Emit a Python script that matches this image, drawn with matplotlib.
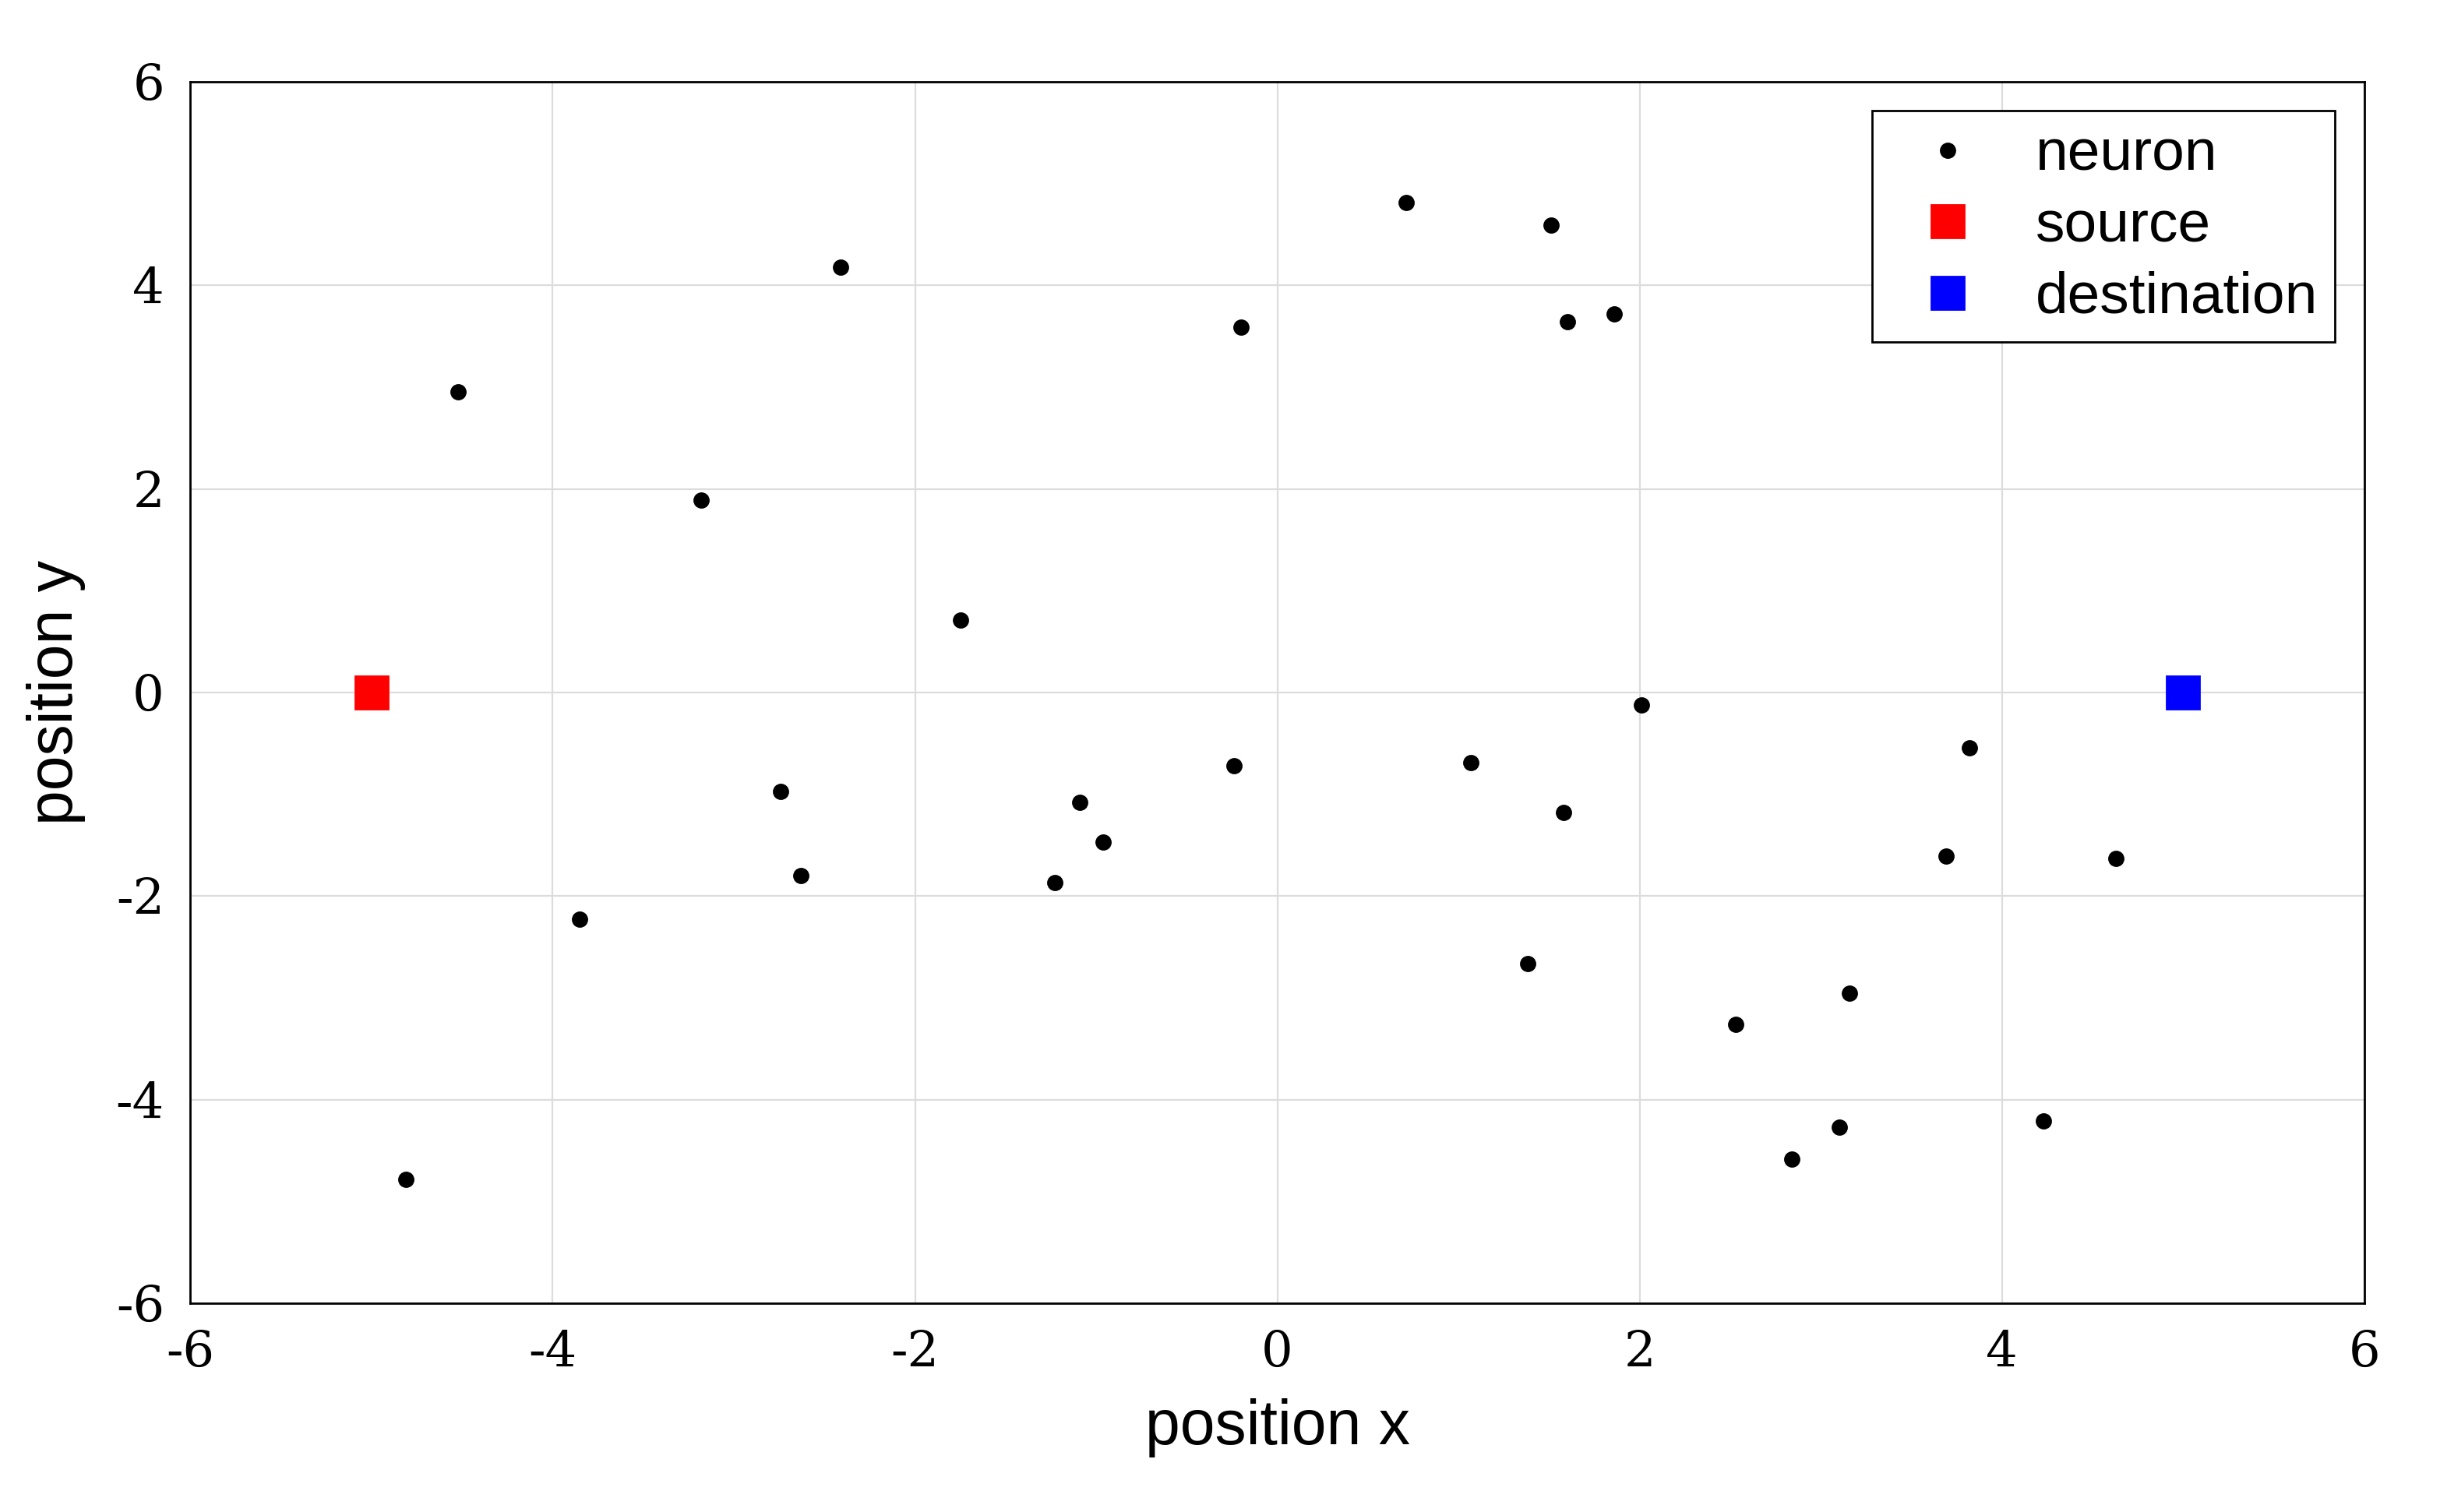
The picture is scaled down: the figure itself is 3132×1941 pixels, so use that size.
import matplotlib
matplotlib.use("Agg")
import matplotlib.pyplot as plt

# neuron positions
neuron_x = [-4.52, -2.41, -3.18, -1.75, -0.20, 0.71, 1.51, 1.60, 1.86, 2.01,
            -2.74, -2.63, -3.85, -4.81, -1.09, -0.96, -1.23, -0.24, 1.07, 1.58,
            1.38, 2.53, 2.84, 3.10, 3.16, 3.69, 3.82, 4.63, 4.23]
neuron_y = [2.95, 4.18, 1.89, 0.71, 3.59, 4.81, 4.59, 3.64, 3.72, -0.12,
            -0.97, -1.80, -2.23, -4.78, -1.08, -1.47, -1.87, -0.72, -0.69, -1.18,
            -2.66, -3.26, -4.58, -4.27, -2.95, -1.61, -0.54, -1.63, -4.21]
source = (-5, 0)
destination = (5, 0)
ticks = [-6, -4, -2, 0, 2, 4, 6]

fig = plt.figure(figsize=(15.66, 9.705), dpi=200)
ax = fig.add_axes([0.078, 0.138, 0.891, 0.808])

ax.plot(neuron_x, neuron_y, "k.", markersize=13, label="neuron", zorder=3)
ax.plot(*source, "s", color="red", markersize=15, label="source", zorder=3)
ax.plot(*destination, "s", color="blue", markersize=15, label="destination", zorder=3)

ax.set_xlim(-6, 6)
ax.set_ylim(-6, 6)
ax.set_xticks(ticks)
ax.set_yticks(ticks)
ax.set_xticklabels([str(t) for t in ticks], family="DejaVu Serif", fontsize=23)
ax.set_yticklabels([str(t) for t in ticks], family="DejaVu Serif", fontsize=23)
ax.tick_params(direction="in", length=0, pad=12)
ax.grid(True, color="#dcdcdc", linewidth=0.8)
ax.set_axisbelow(True)
for s in ax.spines.values():
    s.set_linewidth(1.0)

ax.set_xlabel("position x", family="Liberation Sans", fontsize=29, labelpad=10)
ax.set_ylabel("position y", family="Liberation Sans", fontsize=29, labelpad=14)

leg = ax.legend(loc="upper right", prop={"family": "Liberation Sans", "size": 27},
                fancybox=False, edgecolor="black", framealpha=1,
                handletextpad=0.5, borderaxespad=0.5, labelspacing=0.3,
                borderpad=0.3)
leg.get_frame().set_linewidth(1.0)

fig.savefig("out.png")
